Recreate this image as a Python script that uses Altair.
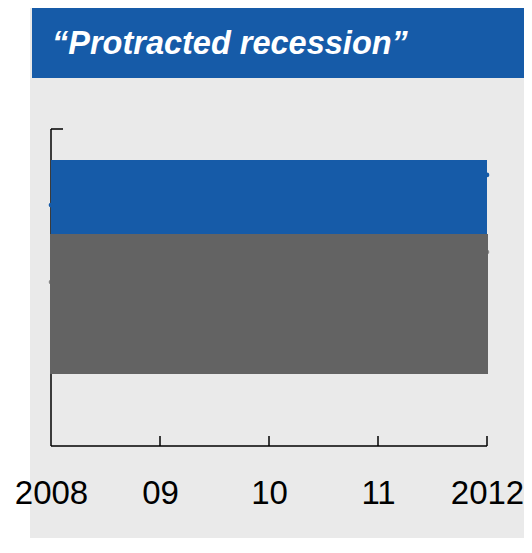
import altair as alt
import pandas as pd

# ---------------- data ----------------
TITLE = "\u201cProtracted recession\u201d"
YEARS = [2008, 2009, 2010, 2011, 2012]
TICK_LABELS = ["2008", "09", "10", "11", "2012"]
SERIES = ["Upper", "Lower"]
BAND_TOP = [9.02, 6.66]
BAND_BOTTOM = [6.66, 2.30]
LINE_START = [7.60, 5.17]   # value at 2008
LINE_END = [8.55, 6.12]     # value at 2012
COLORS = ["#165BA8", "#636363"]
POINT_COLORS = ["#165BA8", "#8A8A8A"]

# ---------------- layout ----------------
W, H = 436, 317
BLUE = "#165BA8"
PANEL = "#EAEAEA"
FONT = "Liberation Sans"

bands = pd.DataFrame({
    "series": SERIES,
    "x0": [YEARS[0]] * 2,
    "x1": [YEARS[-1]] * 2,
    "top": BAND_TOP,
    "bottom": BAND_BOTTOM,
})
lines = pd.DataFrame({
    "series": SERIES + SERIES,
    "year": [YEARS[0]] * 2 + [YEARS[-1]] * 2,
    "value": LINE_START + LINE_END,
})
ticks = pd.DataFrame({"year": YEARS[1:]})
one = pd.DataFrame({"t": [TITLE]})

expr = "''"
for yv, lab in reversed(list(zip(YEARS, TICK_LABELS))):
    expr = f"datum.value == {yv} ? '{lab}' : ({expr})"

XS = alt.Scale(domain=[YEARS[0], YEARS[-1]], nice=False, zero=False)
YS = alt.Scale(domain=[0, 10], nice=False, zero=False)
X_AXIS = alt.Axis(values=YEARS, labelExpr=expr, domain=False, ticks=False, tickSize=0,
                  grid=False, labelFont=FONT, labelFontSize=33, labelColor="black",
                  labelPadding=57, labelBaseline="alphabetic", title=None,
                  labelFlush=False, labelOverlap=False, zindex=1)

panel = alt.Chart(one).mark_rect(color=PANEL).encode(
    x=alt.value(-21), x2=alt.value(480), y=alt.value(-121), y2=alt.value(420))
banner = alt.Chart(one).mark_rect(color=BLUE).encode(
    x=alt.value(-19), x2=alt.value(480), y=alt.value(-121), y2=alt.value(-51))
title = alt.Chart(one).mark_text(
    font=FONT, fontSize=32.5, fontWeight="bold", fontStyle="italic", color="white",
    align="left", baseline="alphabetic").encode(
    text="t:N", x=alt.value(1), y=alt.value(-75))

yline = alt.Chart(one).mark_rule(color="black", strokeWidth=1.5).encode(
    x=alt.value(0), y=alt.value(0), y2=alt.value(H))
xline = alt.Chart(one).mark_rule(color="black", strokeWidth=1.5).encode(
    x=alt.value(0), x2=alt.value(W), y=alt.value(H))
ytick = alt.Chart(one).mark_rule(color="black", strokeWidth=1.5).encode(
    x=alt.value(0), x2=alt.value(12), y=alt.value(0))
xticks = alt.Chart(ticks).mark_rule(color="black", strokeWidth=1.5).encode(
    x=alt.X("year:Q", scale=XS, axis=X_AXIS), y=alt.value(H), y2=alt.value(H - 10))

lns = alt.Chart(lines).mark_line(strokeWidth=2, point=alt.OverlayMarkDef(size=22, filled=True)).encode(
    x=alt.X("year:Q", scale=XS, axis=X_AXIS),
    y=alt.Y("value:Q", scale=YS, axis=None),
    color=alt.Color("series:N", scale=alt.Scale(domain=SERIES, range=POINT_COLORS), legend=None),
)

rects = alt.Chart(bands).mark_rect().encode(
    x=alt.X("x0:Q", scale=XS, axis=X_AXIS), x2="x1:Q",
    y=alt.Y("top:Q", scale=YS, axis=None), y2="bottom:Q",
    color=alt.Color("series:N", scale=alt.Scale(domain=SERIES, range=COLORS), legend=None),
    stroke=alt.Stroke("series:N", scale=alt.Scale(domain=SERIES, range=COLORS), legend=None),
    strokeWidth=alt.StrokeWidth("series:N", scale=alt.Scale(domain=SERIES, range=[0, 2]), legend=None),
)

chart = alt.layer(panel, banner, title, yline, xline, ytick, xticks, lns, rects).resolve_scale(
    color="independent").properties(
    width=W, height=H,
    autosize=alt.AutoSizeParams(type="none"),
    padding={"left": 43, "top": 121, "right": 37, "bottom": 92},
    background="white",
).configure_view(stroke=None)

chart.save("out.html", embed_options={"renderer": "svg", "actions": False})
